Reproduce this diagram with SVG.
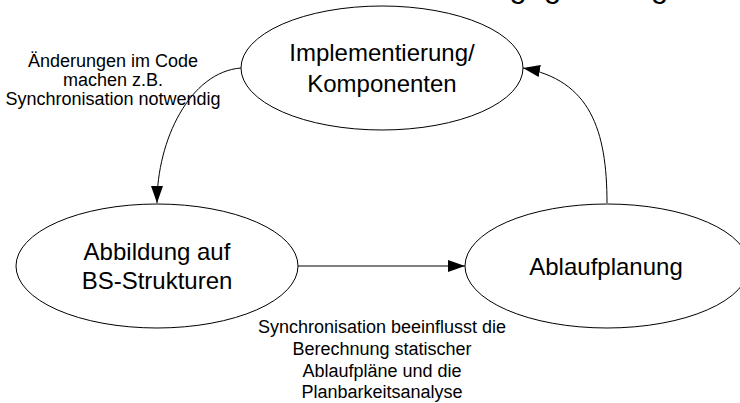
<svg xmlns="http://www.w3.org/2000/svg" width="740" height="403" viewBox="0 0 740 403">
<style>
.node ellipse{fill:#fff;stroke:#000;stroke-width:1}
.nt{font-family:"Liberation Sans",Arial,sans-serif;font-size:24px;fill:#000;text-anchor:middle}
.lbl{font-family:"Liberation Sans",Arial,sans-serif;font-size:18px;fill:#000;text-anchor:middle}
.conn path{fill:none;stroke:#000;stroke-width:1}
</style>
<defs>
<marker id="ah" markerUnits="userSpaceOnUse" markerWidth="18" markerHeight="13" refX="17" refY="6" orient="auto" viewBox="0 0 18 13">
<path d="M0,0 L17,6 L0,12 z" fill="#000"/>
</marker>
</defs>
<rect width="740" height="403" fill="#fff"/>
<text x="509.6" y="-3" font-family="Liberation Sans,Arial,sans-serif" font-size="31px" fill="#000">gegenseitige</text>
<g class="conn" id="connectors">
<path d="M241,68 C190,72 157,140 157,203" marker-end="url(#ah)"/>
<path d="M298,266 L465,266" marker-end="url(#ah)"/>
<path d="M607,203 C607,130 590,80 523,68" marker-end="url(#ah)"/>
</g>
<g class="node" id="node-impl">
<ellipse cx="382" cy="68" rx="141" ry="62"/>
<text class="nt" x="382" y="60.5">Implementierung/</text>
<text class="nt" x="382" y="91.5">Komponenten</text>
</g>
<g class="node" id="node-abbildung">
<ellipse cx="157" cy="266" rx="141" ry="62"/>
<text class="nt" x="157" y="260">Abbildung auf</text>
<text class="nt" x="157" y="289">BS-Strukturen</text>
</g>
<g class="node" id="node-ablauf">
<ellipse cx="607" cy="266" rx="142" ry="62"/>
<text class="nt" x="606" y="275">Ablaufplanung</text>
</g>
<g id="label-left">
<text class="lbl" x="113" y="67">Änderungen im Code</text>
<text class="lbl" x="113" y="86">machen z.B.</text>
<text class="lbl" x="113" y="105">Synchronisation notwendig</text>
</g>
<g id="label-bottom">
<text class="lbl" x="382" y="333">Synchronisation beeinflusst die</text>
<text class="lbl" x="382" y="355">Berechnung statischer</text>
<text class="lbl" x="382" y="376.5">Ablaufpläne und die</text>
<text class="lbl" x="382" y="398">Planbarkeitsanalyse</text>
</g>
</svg>
